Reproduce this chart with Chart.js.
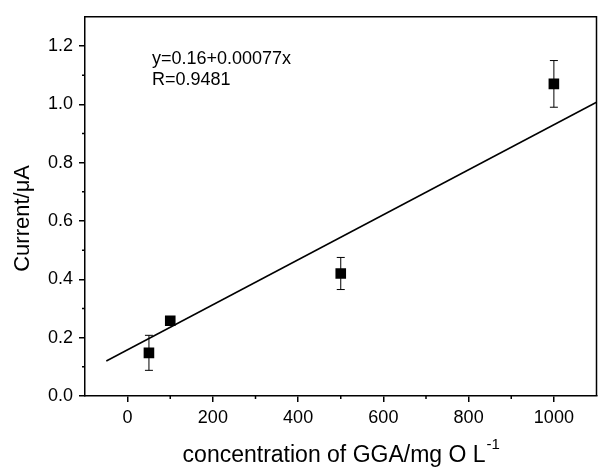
<!DOCTYPE html>
<html>
<head>
<meta charset="utf-8">
<script src="https://cdn.jsdelivr.net/npm/chart.js@4.4.1/dist/chart.umd.min.js"></script>
<style>
  html, body { margin: 0; padding: 0; background: #fff; overflow: hidden; }
  canvas { display: block; }
</style>
</head>
<body>
<canvas id="chart" width="604" height="467"></canvas>
<script>
'use strict';
//****************************
// DATA
//****************************
var concentration = [50, 100, 500, 1000];
var current = [0.148, 0.258, 0.42, 1.07];
var errors = [0.06, 0.01, 0.055, 0.08];
var fitX = [-50, 1100];
var fitY = [0.12, 1.007];
var fitLabel = 'y=0.16+0.00077x';
var rLabel = 'R=0.9481';
var xTitle = 'concentration of GGA/mg O L';
var xTitleSup = '-1';
var yTitle = 'Current/\u03bcA';

var FONT = "'Liberation Sans', Arial, sans-serif";

function toPoints(xs, ys) {
  var out = [];
  for (var i = 0; i < xs.length; i++) {
    out.push({ x: xs[i], y: ys[i] });
  }
  return out;
}

// frame, minor ticks, error bars and text
var extras = {
  id: 'extras',
  beforeDatasetsDraw: function (chart) {
    var ctx = chart.ctx;
    var xs = chart.scales.x;
    var ys = chart.scales.y;
    ctx.save();
    ctx.strokeStyle = '#000';
    ctx.lineWidth = 1;
    for (var i = 0; i < concentration.length; i++) {
      var px = xs.getPixelForValue(concentration[i]);
      var top = ys.getPixelForValue(current[i] + errors[i]);
      var bot = ys.getPixelForValue(current[i] - errors[i]);
      ctx.beginPath();
      ctx.moveTo(px, top);
      ctx.lineTo(px, bot);
      ctx.moveTo(px - 4, top);
      ctx.lineTo(px + 4, top);
      ctx.moveTo(px - 4, bot);
      ctx.lineTo(px + 4, bot);
      ctx.stroke();
    }
    ctx.restore();
  },
  afterDraw: function (chart) {
    var ctx = chart.ctx;
    var a = chart.chartArea;
    var xs = chart.scales.x;
    var ys = chart.scales.y;
    ctx.save();
    ctx.strokeStyle = '#000';
    ctx.lineWidth = 1.5;
    // top and right frame
    ctx.beginPath();
    ctx.moveTo(a.left, a.top);
    ctx.lineTo(a.right, a.top);
    ctx.lineTo(a.right, a.bottom);
    ctx.stroke();
    // minor ticks
    ctx.beginPath();
    xs.ticks.forEach(function (t) {
      if (t.value % 200 !== 0 && t.value > xs.min && t.value < xs.max) {
        var p = xs.getPixelForValue(t.value);
        ctx.moveTo(p, a.bottom);
        ctx.lineTo(p, a.bottom + 3);
      }
    });
    ys.ticks.forEach(function (t) {
      if (Math.round(t.value * 10) % 2 !== 0 && t.value < ys.max) {
        var p = ys.getPixelForValue(t.value);
        ctx.moveTo(a.left, p);
        ctx.lineTo(a.left - 3, p);
      }
    });
    ctx.stroke();

    // annotation
    ctx.fillStyle = '#000';
    ctx.font = '18px ' + FONT;
    ctx.textAlign = 'left';
    ctx.textBaseline = 'alphabetic';
    ctx.fillText(fitLabel, 152, 64);
    ctx.fillText(rLabel, 152, 85);

    // x title with superscript
    ctx.font = '23px ' + FONT;
    var mainW = ctx.measureText(xTitle).width;
    ctx.font = '15px ' + FONT;
    var supW = ctx.measureText(xTitleSup).width;
    var cx = (a.left + a.right) / 2;
    var x0 = cx - (mainW + supW) / 2;
    ctx.font = '23px ' + FONT;
    ctx.fillText(xTitle, x0, 462);
    ctx.font = '15px ' + FONT;
    ctx.fillText(xTitleSup, x0 + mainW + 1, 449);

    // y title
    ctx.font = '22px ' + FONT;
    ctx.textAlign = 'center';
    ctx.textBaseline = 'middle';
    ctx.translate(23, (a.top + a.bottom) / 2 + 12);
    ctx.rotate(-Math.PI / 2);
    ctx.fillText(yTitle, 0, 0);
    ctx.restore();
  }
};

var chart = new Chart(document.getElementById('chart'), {
  type: 'scatter',
  data: {
    datasets: [{
      label: 'data',
      data: toPoints(concentration, current),
      pointStyle: 'rect',
      pointRadius: 7.5,
      pointHoverRadius: 7.5,
      backgroundColor: '#000',
      borderWidth: 0,
      order: 1
    }, {
      label: 'fit',
      type: 'line',
      data: toPoints(fitX, fitY),
      borderColor: '#000',
      borderWidth: 1.5,
      pointRadius: 0,
      fill: false,
      order: 2
    }]
  },
  options: {
    responsive: false,
    animation: false,
    devicePixelRatio: 1,
    layout: { padding: { top: 15, right: 1, left: 0, bottom: 0 } },
    plugins: {
      legend: { display: false },
      tooltip: { enabled: false }
    },
    scales: {
      x: {
        type: 'linear',
        min: -100,
        max: 1100,
        afterFit: function (s) {
          s.height = 71;
        },
        ticks: {
          stepSize: 100,
          autoSkip: false,
          maxRotation: 0,
          padding: 5,
          color: '#000',
          font: { family: FONT, size: 18 },
          callback: function (v) { return v % 200 === 0 ? String(v) : ''; }
        },
        grid: {
          drawOnChartArea: false,
          tickLength: 6,
          lineWidth: 1.5,
          color: function (c) {
            return c.tick && c.tick.value % 200 === 0 ? '#000' : 'rgba(0,0,0,0)';
          }
        },
        border: { display: true, color: '#000', width: 1.5 }
      },
      y: {
        min: 0,
        max: 1.3,
        afterFit: function (s) {
          s.width = 85;
        },
        ticks: {
          stepSize: 0.1,
          autoSkip: false,
          padding: 6,
          color: '#000',
          font: { family: FONT, size: 18 },
          callback: function (v) {
            return Math.round(v * 10) % 2 === 0 && v < 1.25 ? v.toFixed(1) : '';
          }
        },
        grid: {
          drawOnChartArea: false,
          tickLength: 6,
          lineWidth: 1.5,
          color: function (c) {
            return c.tick && Math.round(c.tick.value * 10) % 2 === 0 && c.tick.value < 1.25 ? '#000' : 'rgba(0,0,0,0)';
          }
        },
        border: { display: true, color: '#000', width: 1.5 }
      }
    }
  },
  plugins: [extras]
});
</script>
</body>
</html>
